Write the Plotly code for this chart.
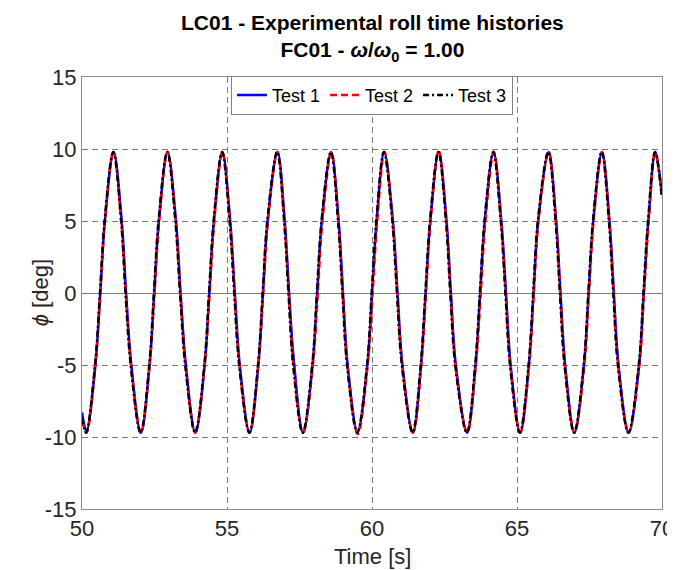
import plotly.graph_objects as go

# ---- data (key points of each roll time history) ----
t_test3 = [50.00, 50.14, 50.45, 50.62, 50.78, 51.08, 51.35, 51.50, 51.68, 52.02,
           52.32, 52.48, 52.64, 52.94, 53.22, 53.38, 53.56, 53.90, 54.22, 54.38,
           54.54, 54.83, 55.09, 55.25, 55.42, 55.77, 56.07, 56.23, 56.39, 56.73,
           56.97, 57.12, 57.28, 57.61, 57.94, 58.10, 58.26, 58.58, 58.83, 58.98,
           59.14, 59.49, 59.83, 59.99, 60.15, 60.41, 60.70, 60.86, 61.03, 61.40,
           61.68, 61.84, 62.00, 62.29, 62.55, 62.70, 62.87, 63.27, 63.56, 63.72,
           63.88, 64.18, 64.44, 64.60, 64.76, 65.10, 65.40, 65.56, 65.72, 66.08,
           66.33, 66.48, 66.64, 66.97, 67.30, 67.46, 67.62, 67.92, 68.17, 68.32,
           68.48, 68.84, 69.20, 69.36, 69.52, 69.76, 70.00]
phi_test3 = [-8.7, -9.7, -5.0, 0.0, 5.0, 9.8, 5.0, 0.0, -5.0, -9.7,
             -5.0, 0.0, 5.0, 9.8, 5.0, 0.0, -5.0, -9.7, -5.0, 0.0,
             5.0, 9.8, 5.0, 0.0, -5.0, -9.7, -5.0, 0.0, 5.0, 9.8,
             5.0, 0.0, -5.0, -9.7, -5.0, 0.0, 5.0, 9.8, 5.0, 0.0,
             -5.0, -9.7, -5.0, 0.0, 5.0, 9.8, 5.0, 0.0, -5.0, -9.7,
             -5.0, 0.0, 5.0, 9.8, 5.0, 0.0, -5.0, -9.7, -5.0, 0.0,
             5.0, 9.8, 5.0, 0.0, -5.0, -9.7, -5.0, 0.0, 5.0, 9.8,
             5.0, 0.0, -5.0, -9.7, -5.0, 0.0, 5.0, 9.8, 5.0, 0.0,
             -5.0, -9.7, -5.0, 0.0, 5.0, 9.8, 6.6]

t_test1 = [50.00, 50.15, 50.46, 50.63, 50.79, 51.09, 51.37, 51.52, 51.70, 52.03,
           52.33, 52.49, 52.65, 52.95, 53.24, 53.40, 53.58, 53.91, 54.23, 54.39,
           54.55, 54.84, 55.11, 55.27, 55.44, 55.78, 56.08, 56.24, 56.40, 56.74,
           56.99, 57.14, 57.30, 57.62, 57.95, 58.11, 58.27, 58.59, 58.85, 59.00,
           59.16, 59.50, 59.84, 60.00, 60.16, 60.42, 60.72, 60.88, 61.05, 61.41,
           61.69, 61.85, 62.01, 62.30, 62.57, 62.72, 62.89, 63.28, 63.57, 63.73,
           63.89, 64.19, 64.46, 64.62, 64.78, 65.11, 65.41, 65.57, 65.73, 66.09,
           66.35, 66.50, 66.66, 66.98, 67.31, 67.47, 67.63, 67.93, 68.19, 68.34,
           68.50, 68.85, 69.21, 69.37, 69.53, 69.77, 70.00]
phi_test1 = [-8.3, -9.6, -5.0, 0.0, 5.0, 9.8, 5.0, 0.0, -5.0, -9.7,
             -5.0, 0.0, 5.0, 9.8, 5.0, 0.0, -5.0, -9.7, -5.0, 0.0,
             5.0, 9.8, 5.0, 0.0, -5.0, -9.7, -5.0, 0.0, 5.0, 9.8,
             5.0, 0.0, -4.6, -9.7, -5.0, 0.0, 5.0, 9.8, 5.0, 0.0,
             -5.0, -9.6, -5.0, 0.0, 5.0, 9.8, 5.0, 0.0, -5.0, -9.7,
             -5.0, 0.0, 5.0, 9.8, 5.0, 0.0, -5.0, -9.7, -5.0, 0.0,
             5.0, 9.8, 5.0, 0.0, -5.0, -9.7, -5.0, 0.0, 5.0, 9.8,
             5.0, 0.0, -5.0, -9.7, -5.0, 0.0, 5.0, 9.8, 5.0, 0.0,
             -5.0, -9.7, -5.0, 0.0, 5.0, 9.8, 6.8]

t_test2 = [50.00, 50.15, 50.46, 50.63, 50.79, 51.08, 51.35, 51.51, 51.69, 52.03,
           52.33, 52.50, 52.66, 52.95, 53.23, 53.39, 53.57, 53.90, 54.23, 54.40,
           54.56, 54.84, 55.10, 55.26, 55.43, 55.78, 56.08, 56.25, 56.41, 56.74,
           56.98, 57.13, 57.29, 57.62, 57.96, 58.13, 58.29, 58.60, 58.84, 58.99,
           59.15, 59.51, 59.85, 60.02, 60.18, 60.43, 60.71, 60.87, 61.04, 61.41,
           61.70, 61.86, 62.02, 62.30, 62.56, 62.71, 62.88, 63.28, 63.58, 63.75,
           63.91, 64.20, 64.45, 64.61, 64.77, 65.11, 65.42, 65.58, 65.74, 66.09,
           66.34, 66.49, 66.65, 66.98, 67.32, 67.48, 67.64, 67.93, 68.18, 68.33,
           68.49, 68.85, 69.22, 69.38, 69.54, 69.77, 70.00]
phi_test2 = [-8.8, -9.7, -5.0, 0.0, 5.0, 9.8, 5.0, 0.0, -5.0, -9.7,
             -5.0, 0.0, 5.0, 9.8, 5.0, 0.0, -5.0, -9.7, -5.0, 0.0,
             5.0, 9.8, 5.0, 0.0, -5.0, -9.7, -5.0, 0.0, 5.0, 9.8,
             5.0, 0.0, -5.0, -9.7, -5.0, 0.0, 5.0, 9.8, 5.0, 0.0,
             -5.0, -9.8, -5.0, 0.0, 5.0, 9.8, 5.0, 0.0, -5.0, -9.7,
             -5.0, 0.0, 5.0, 9.9, 5.0, 0.0, -5.0, -9.7, -5.0, 0.0,
             5.0, 9.8, 5.0, 0.0, -5.0, -9.7, -5.0, 0.0, 5.0, 9.8,
             5.0, 0.0, -5.0, -9.7, -5.0, 0.0, 5.0, 9.8, 5.0, 0.0,
             -5.0, -9.7, -5.0, 0.0, 5.0, 9.8, 6.6]

x_ticks = [50, 55, 60, 65, 70]
x_tick_labels = ["50", "55", "60", "65", "70"]
y_ticks = [-15, -10, -5, 0, 5, 10, 15]
y_tick_labels = ["-15", "-10", "-5", "0", "5", "10", "15"]

FONT = "Liberation Sans, Arial, Helvetica, sans-serif"

fig = go.Figure()
fig.add_trace(go.Scatter(x=t_test1, y=phi_test1, name="Test 1", mode="lines",
                         line=dict(color="#0000ff", width=2.5, shape="spline", smoothing=1.0)))
fig.add_trace(go.Scatter(x=t_test2, y=phi_test2, name="Test 2", mode="lines",
                         line=dict(color="#ff0000", width=2.5, dash="7px,4px", shape="spline", smoothing=1.0)))
fig.add_trace(go.Scatter(x=t_test3, y=phi_test3, name="Test 3", mode="lines",
                         line=dict(color="#000000", width=2.5, dash="6px,3px,2px,3px", shape="spline", smoothing=1.0)))

# page body adds an 8px offset, so the figure is 8px smaller and margins compensate
fig.update_layout(
    width=667, height=562,
    margin=dict(l=74, r=13, t=69, b=61, autoexpand=False),
    paper_bgcolor="white", plot_bgcolor="white",
    font=dict(family=FONT, color="#262626"),
    legend=dict(orientation="h", x=0.5, xanchor="center", y=1.003, yanchor="top",
                bgcolor="white", bordercolor="#808080", borderwidth=1,
                font=dict(size=18, family=FONT, color="#000000"),
                itemwidth=30, tracegroupgap=0),
    showlegend=True,
    annotations=[
        dict(text="<b>LC01 - Experimental roll time histories<br>FC01 - <i>ω</i>/<i>ω</i><sub>0</sub> = 1.00</b>",
             xref="paper", yref="paper", x=0.5, y=1.0, xanchor="center", yanchor="bottom",
             yshift=10, showarrow=False, align="center",
             font=dict(size=21, family=FONT, color="#000000")),
        dict(text="Time [s]", xref="paper", yref="paper", x=0.5, y=-0.11,
             xanchor="center", yanchor="middle", showarrow=False,
             font=dict(size=22, family=FONT, color="#262626")),
        dict(text="<i>ϕ</i> [deg]", xref="paper", yref="paper", x=-0.072, y=0.5,
             xanchor="center", yanchor="middle", textangle=-90, showarrow=False,
             font=dict(size=22, family=FONT, color="#262626")),
    ],
)
fig.update_xaxes(range=[50, 70], tickvals=x_ticks, ticktext=x_tick_labels, automargin=False,
                 showline=True, mirror=True, linecolor="#8c8c8c", linewidth=1,
                 showgrid=True, gridcolor="#7a7a7a", gridwidth=1, griddash="6px,4px",
                 zeroline=False, ticks="", tickfont=dict(size=22, color="#262626"))
fig.update_yaxes(range=[-15, 15], tickvals=y_ticks, ticktext=y_tick_labels, automargin=False,
                 showline=True, mirror=True, linecolor="#8c8c8c", linewidth=1,
                 showgrid=True, gridcolor="#7a7a7a", gridwidth=1, griddash="6px,4px",
                 zeroline=True, zerolinecolor="#7a7a7a", zerolinewidth=1,
                 ticks="", tickfont=dict(size=22, color="#262626"))

fig.write_html("out.html")
